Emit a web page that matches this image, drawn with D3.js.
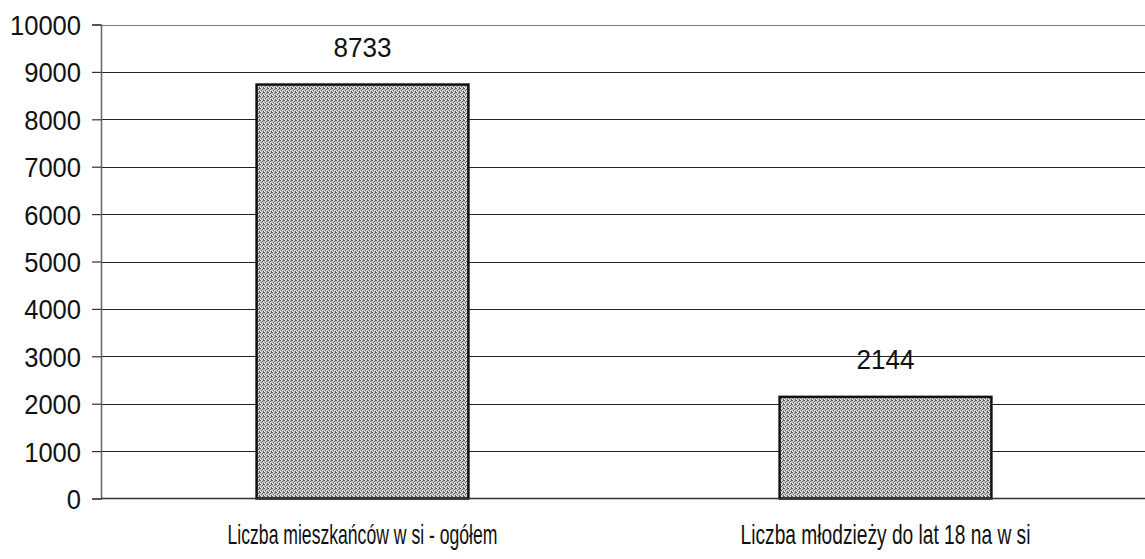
<!DOCTYPE html>
<html>
<head>
<meta charset="utf-8">
<script src="https://cdn.jsdelivr.net/npm/d3@7"></script>
<style>
  html, body { margin: 0; padding: 0; background: #fff; }
  svg { display: block; }
</style>
</head>
<body>
<div id="chart"></div>
<script>
// Chart data
const categories = ['Liczba mieszkańców w si - ogółem', 'Liczba młodzieży do lat 18 na w si'];
const values = [8733, 2144];
const yTicks = [0, 1000, 2000, 3000, 4000, 5000, 6000, 7000, 8000, 9000, 10000];

const width = 1145;
const height = 559;
const margin = { top: 24.5, right: -2, bottom: 60, left: 101 };
const font = '"Liberation Sans", Arial, sans-serif';

const svg = d3.select('#chart')
  .append('svg')
  .attr('width', width)
  .attr('height', height);

// Dithered grey fill, like the scanned bar texture
const defs = svg.append('defs');
const pat = defs.append('pattern')
  .attr('id', 'dither')
  .attr('patternUnits', 'userSpaceOnUse')
  .attr('width', 4)
  .attr('height', 4);
pat.append('rect').attr('width', 4).attr('height', 4).attr('fill', '#c4c4c4');
[[0, 0], [2, 1], [1, 2], [3, 3], [3, 0]].forEach(([px, py]) => {
  pat.append('rect').attr('x', px).attr('y', py).attr('width', 1).attr('height', 1).attr('fill', '#5a5a5a');
});
[[1, 0], [0, 3], [2, 2]].forEach(([px, py]) => {
  pat.append('rect').attr('x', px).attr('y', py).attr('width', 1).attr('height', 1).attr('fill', '#f0f0f0');
});

const x = d3.scaleBand()
  .domain(categories)
  .range([margin.left, width - margin.right])
  .paddingInner(0.595)
  .paddingOuter(0.2975);

const y = d3.scaleLinear()
  .domain([0, 10000])
  .range([height - margin.bottom - 0.5, margin.top]);

// Gridlines
svg.append('g')
  .selectAll('line')
  .data(yTicks.filter(t => t > 0))
  .join('line')
  .attr('x1', margin.left)
  .attr('x2', width)
  .attr('y1', d => Math.round(y(d)) + 0.5)
  .attr('y2', d => Math.round(y(d)) + 0.5)
  .attr('stroke', d => d === 10000 ? '#777' : '#222')
  .attr('stroke-width', 1.2);

// Y axis
const yAxis = svg.append('g')
  .attr('transform', `translate(${margin.left},0)`)
  .call(d3.axisLeft(y).tickValues(yTicks).tickSize(9).tickPadding(11).tickFormat(d3.format('d')));
yAxis.select('.domain').attr('stroke', '#666').attr('stroke-width', 1.5);
yAxis.selectAll('.tick line').attr('stroke', '#333').attr('stroke-width', 1.2);
yAxis.selectAll('.tick text')
  .attr('fill', '#111')
  .attr('font-family', font)
  .attr('font-size', '28px')
  .attr('dy', '0.36em')
  .attr('textLength', d => String(d).length * 14.2)
  .attr('lengthAdjust', 'spacingAndGlyphs');

// Bars
svg.append('g')
  .selectAll('rect')
  .data(values)
  .join('rect')
  .attr('x', (d, i) => x(categories[i]))
  .attr('y', d => y(d))
  .attr('width', x.bandwidth())
  .attr('height', d => y(0) - y(d))
  .attr('fill', 'url(#dither)')
  .attr('stroke', '#111')
  .attr('stroke-width', 2.5);

// Baseline
svg.append('line')
  .attr('x1', margin.left)
  .attr('x2', width)
  .attr('y1', y(0))
  .attr('y2', y(0))
  .attr('stroke', '#333')
  .attr('stroke-width', 1.5);

// Value labels
svg.append('g')
  .selectAll('text')
  .data(values)
  .join('text')
  .attr('x', (d, i) => x(categories[i]) + x.bandwidth() / 2)
  .attr('y', d => y(d) - 28)
  .attr('text-anchor', 'middle')
  .attr('font-family', font)
  .attr('font-size', '28px')
  .attr('fill', '#111')
  .attr('textLength', 58)
  .attr('lengthAdjust', 'spacingAndGlyphs')
  .text(d => d);

// Category labels (condensed by a horizontal scale to the reference width)
const labelWidths = [270, 290];
svg.append('g')
  .selectAll('text')
  .data(categories)
  .join('text')
  .attr('text-anchor', 'middle')
  .attr('font-family', font)
  .attr('font-size', '27px')
  .attr('fill', '#111')
  .text(d => d)
  .each(function(d, i) {
    const natural = this.getComputedTextLength();
    const k = labelWidths[i] / natural;
    d3.select(this).attr('transform',
      `translate(${x(d) + x.bandwidth() / 2},544) scale(${k},1)`);
  });
</script>
</body>
</html>
